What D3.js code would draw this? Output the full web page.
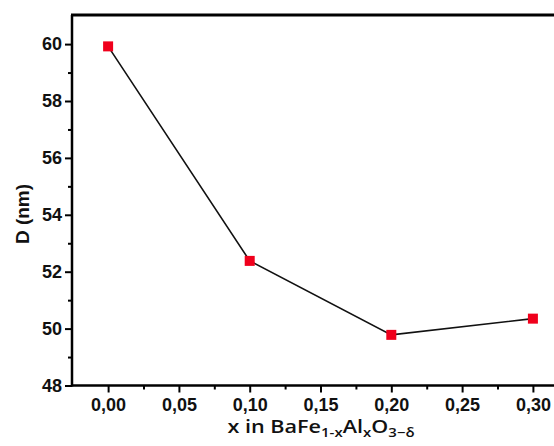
<!DOCTYPE html>
<html><head><meta charset="utf-8">
<script src="https://cdn.jsdelivr.net/npm/d3@7"></script>
<style>body{margin:0;background:#fff}svg{display:block}</style>
</head><body>
<svg id="c" width="554" height="446"></svg>
<script>
const xValues = [0.00, 0.10, 0.20, 0.30];
const dValues = [59.92, 52.38, 49.78, 50.35];
const xTicks = [0.00, 0.05, 0.10, 0.15, 0.20, 0.25, 0.30];
const xMinor = [0.025, 0.075, 0.125, 0.175, 0.225, 0.275];
const yTicks = [48, 50, 52, 54, 56, 58, 60];
const yMinor = [49, 51, 53, 55, 57, 59];

const svg = d3.select("#c");
const L = 72, T = 15, B = 385.5;
const x = d3.scaleLinear().domain([-0.0255, 0.325]).range([L, L + 0.3505 * 1416]);
const y = d3.scaleLinear().domain([48, 61]).range([B, B - 13 * 28.45]);
const fmt = d => d3.format(".2f")(d).replace(".", ",");

const xa = svg.append("g").attr("transform", `translate(0,${B})`)
  .call(d3.axisBottom(x).tickValues(xMinor).tickSize(4).tickFormat(""));
const xA = svg.append("g").attr("transform", `translate(0,${B})`)
  .call(d3.axisBottom(x).tickValues(xTicks).tickSize(7).tickPadding(6).tickFormat(fmt));
const ya = svg.append("g").attr("transform", `translate(${L},0)`)
  .call(d3.axisLeft(y).tickValues(yMinor).tickSize(4).tickFormat(""));
const yA = svg.append("g").attr("transform", `translate(${L},0)`)
  .call(d3.axisLeft(y).tickValues(yTicks).tickSize(7).tickPadding(3).tickFormat(d3.format("d")));
[xa, xA, ya, yA].forEach(g => {
  g.select(".domain").remove();
  g.selectAll("line").attr("stroke", "#000").attr("stroke-width", 2);
  g.selectAll("text").attr("fill", "#111").attr("font-family", "Liberation Sans, Arial, sans-serif")
    .attr("font-weight", "bold").attr("font-size", 18);
});

svg.append("line").attr("x1", L).attr("x2", 560).attr("y1", B).attr("y2", B).attr("stroke", "#000").attr("stroke-width", 2.5);
svg.append("line").attr("x1", L).attr("x2", L).attr("y1", T).attr("y2", B + 1).attr("stroke", "#000").attr("stroke-width", 2.5);
svg.append("line").attr("x1", L - 1).attr("x2", 560).attr("y1", T).attr("y2", T).attr("stroke", "#000").attr("stroke-width", 3);

const pts = xValues.map((v, i) => [v, dValues[i]]);
svg.append("path").datum(pts)
  .attr("d", d3.line().x(d => x(d[0])).y(d => y(d[1])))
  .attr("fill", "none").attr("stroke", "#111").attr("stroke-width", 1.6);
svg.selectAll("rect.m").data(pts).enter().append("rect").attr("class", "m")
  .attr("x", d => x(d[0]) - 5).attr("y", d => y(d[1]) - 5)
  .attr("width", 10).attr("height", 10).attr("fill", "#f0001c");

svg.append("text").attr("transform", "translate(29,214) rotate(-90)")
  .attr("text-anchor", "middle").attr("font-family", "Liberation Sans, Arial, sans-serif")
  .attr("font-weight", "bold").attr("font-size", 19).attr("fill", "#111").text("D (nm)");

const xl = svg.append("text").attr("transform", "translate(321,433) scale(1.2,1)").attr("text-anchor", "middle")
  .attr("font-family", "Open Sans, sans-serif").attr("font-weight", 600).attr("font-size", 18).attr("fill", "#111");
xl.append("tspan").text("x in BaFe");
xl.append("tspan").attr("font-size", 12.5).attr("dy", 4).text("1-x");
xl.append("tspan").attr("dy", -4).text("Al");
xl.append("tspan").attr("font-size", 12.5).attr("dy", 4).text("x");
xl.append("tspan").attr("dy", -4).text("O");
xl.append("tspan").attr("font-size", 12.5).attr("dy", 4).text("3−δ");
</script>
</body></html>
